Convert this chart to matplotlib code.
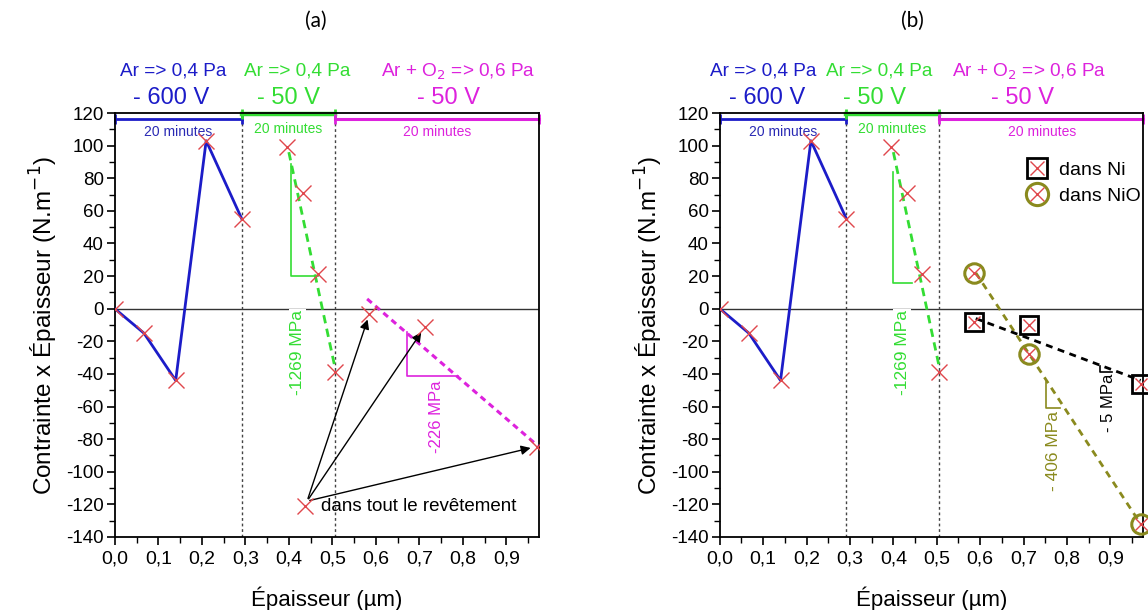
import matplotlib
matplotlib.use("Agg")
import matplotlib.pyplot as plt
from matplotlib.lines import Line2D
from matplotlib.ticker import MultipleLocator, FuncFormatter

plt.rcParams['font.family'] = ['Liberation Sans', 'DejaVu Sans']
plt.rcParams['axes.unicode_minus'] = False
NARROW = ['Liberation Sans Narrow', 'Liberation Sans', 'DejaVu Sans']

# data
ar600_x = [0.0, 0.067, 0.14, 0.21, 0.292]
ar600_y = [0.0, -15, -44, 103, 55]
ar50_x = [0.395, 0.432, 0.467, 0.505]
ar50_y = [99, 71, 21, -39]
ar50_fit_x = [0.40, 0.506]
ar50_fit_y = [96, -36]

o2_x = [0.585, 0.712, 0.97]
o2_y = [-3, -11, -85]
o2_fit_x = [0.58, 0.972]
o2_fit_y = [6, -84]
whole_pt = (0.437, -121)

ni_x = [0.585, 0.712, 0.97]
ni_y = [-8, -10, -46]
ni_fit_x = [0.59, 0.97]
ni_fit_y = [-6, -44]
nio_x = [0.585, 0.712, 0.97]
nio_y = [22, -28, -132]
nio_fit_x = [0.59, 0.97]
nio_fit_y = [22, -132]

bounds = [0.0, 0.292, 0.506, 0.975]

BLUE = '#1c1cc8'
BLUE_T = '#2a2ab4'
GREEN = '#33dd33'
MAG = '#dd22dd'
OLIVE = '#8a8a1e'
RED = '#e0474c'

fig = plt.figure(figsize=(11.48, 6.10), dpi=100)
axa = fig.add_axes([0.100, 0.1197, 0.3695, 0.695])
axb = fig.add_axes([0.627, 0.1197, 0.3685, 0.695])


def base(ax, hdr):
    ax.set_xlim(0, 0.975)
    ax.set_ylim(-140, 120)
    ax.xaxis.set_major_locator(MultipleLocator(0.1))
    ax.xaxis.set_minor_locator(MultipleLocator(0.05))
    ax.yaxis.set_major_locator(MultipleLocator(20))
    ax.yaxis.set_minor_locator(MultipleLocator(10))
    ax.xaxis.set_major_formatter(FuncFormatter(
        lambda v, p: ('%.1f' % v).replace('.', ',') if v < 0.95 else ''))
    ax.tick_params(which='both', direction='out', top=False, right=False)
    ax.tick_params(which='major', length=6, width=1.2)
    ax.tick_params(which='minor', length=4, width=1.0)
    ax.tick_params(axis='y', labelsize=13.5, pad=2)
    for lab in ax.get_xticklabels():
        lab.set_family(NARROW)
        lab.set_fontsize(14)
    for s in ax.spines.values():
        s.set_linewidth(1.3)
    ax.set_xlabel('Épaisseur (µm)', family=NARROW, fontsize=16, labelpad=14)
    ax.set_ylabel('Contrainte x Épaisseur (N.m$^{-1}$)', fontsize=17.5,
                  labelpad=4)
    ax.axhline(0, color='#333333', lw=1.0, zorder=1)
    for xv in bounds[1:3]:
        ax.axvline(xv, color='#444444', lw=1.0, ls=(0, (2, 2)), zorder=1)

    # process bars
    ax.plot(bounds[0:2], [116.5, 116.5], color=BLUE, lw=2, clip_on=False,
            marker='|', ms=7, mew=2)
    ax.plot(bounds[1:3], [119.2, 119.2], color=GREEN, lw=3.2, clip_on=False,
            marker='|', ms=7, mew=2)
    ax.plot(bounds[2:4], [116.5, 116.5], color=MAG, lw=2.2, clip_on=False,
            marker='|', ms=7, mew=2)
    ax.text(0.145, 108.5, '20 minutes', color=BLUE_T, fontsize=10,
            ha='center', va='center')
    ax.text(0.398, 110, '20 minutes', color=GREEN, fontsize=10,
            ha='center', va='center')
    ax.text(0.742, 108.5, '20 minutes', color=MAG, fontsize=10,
            ha='center', va='center')

    # headers
    for xh, col, t in zip(hdr[0], [BLUE, GREEN, MAG],
                          ['Ar => 0,4 Pa', 'Ar => 0,4 Pa',
                           'Ar + O$_2$ => 0,6 Pa']):
        ax.text(xh, 145.5, t, color=col, fontsize=13.7, ha='center',
                va='center', clip_on=False)
    for xv, col, t in zip(hdr[1], [BLUE, GREEN, MAG],
                          ['- 600 V', '- 50 V', '- 50 V']):
        ax.text(xv, 129, t, color=col, fontsize=17, ha='center',
                va='center', clip_on=False)

    # first two sequences
    ax.plot(ar600_x, ar600_y, color=BLUE, lw=2, zorder=3)
    ax.plot(ar600_x, ar600_y, ls='none', marker='x', ms=11, mew=1.0,
            color=RED, zorder=4)
    ax.plot(ar50_fit_x, ar50_fit_y, color=GREEN, lw=2, ls=(0, (3, 2)),
            zorder=3)
    ax.plot(ar50_x, ar50_y, ls='none', marker='x', ms=11, mew=1.0,
            color=RED, zorder=4)


# ---------------- (a)
base(axa, ([0.135, 0.42, 0.79], [0.13, 0.40, 0.767]))
axa.plot([0.405, 0.405, 0.467], [89, 20, 20], color=GREEN, lw=1.2, zorder=2)
axa.text(0.42, -27, '-1269 MPa', color=GREEN, fontsize=12.5, rotation=90,
         ha='center', va='center', zorder=2,
         bbox=dict(facecolor='white', edgecolor='none', pad=1))
axa.plot(o2_fit_x, o2_fit_y, color=MAG, lw=2.2, ls=(0, (2, 1.5)), zorder=3)
axa.plot(o2_x, o2_y, ls='none', marker='x', ms=11, mew=1.0, color=RED,
         zorder=4)
axa.plot([0.671, 0.671, 0.79], [-14, -41, -41], color=MAG, lw=1.2, zorder=2)
axa.text(0.74, -66, '-226 MPa', color=MAG, fontsize=12, rotation=90,
         ha='center', va='center')
axa.plot([whole_pt[0]], [whole_pt[1]], ls='none', marker='x', ms=11,
         mew=1.0, color=RED, zorder=4)
for tx, ty in zip([0.583, 0.708, 0.962], [-5, -13, -85]):
    axa.annotate('', xy=(tx, ty), xytext=(whole_pt[0] + 0.005, -118),
                 arrowprops=dict(arrowstyle='-|>', color='black', lw=1.0,
                                 mutation_scale=14))
axa.text(0.474, -121, 'dans tout le revêtement', fontsize=13.5, ha='left',
         va='center')

# ---------------- (b)
base(axb, ([0.099, 0.368, 0.713], [0.108, 0.356, 0.697]))
axb.plot([0.40, 0.40, 0.444], [84, 16, 16], color=GREEN, lw=1.2, zorder=2)
axb.text(0.42, -27, '-1269 MPa', color=GREEN, fontsize=12.5, rotation=90,
         ha='center', va='center', zorder=2,
         bbox=dict(facecolor='white', edgecolor='none', pad=1))
axb.plot(nio_fit_x, nio_fit_y, color=OLIVE, lw=2, ls=(0, (2.5, 2)), zorder=3)
axb.plot(ni_fit_x, ni_fit_y, color='black', lw=2, ls=(0, (2.5, 2)), zorder=3)
axb.plot(nio_x, nio_y, ls='none', marker='o', ms=14, mfc='none', mew=2.2,
         mec=OLIVE, zorder=4, clip_on=False)
axb.plot(ni_x, ni_y, ls='none', marker='s', ms=13, mfc='none', mew=2.0,
         mec='black', zorder=4, clip_on=False)
axb.plot(ni_x + nio_x, ni_y + nio_y, ls='none', marker='x', ms=9, mew=1.0,
         color=RED, zorder=5, clip_on=False)
axb.plot([0.752, 0.752, 0.785], [-45, -61, -61], color=OLIVE, lw=1.2)
axb.text(0.768, -87, '- 406 MPa', color=OLIVE, fontsize=12.5, rotation=90,
         ha='center', va='center')
axb.plot([0.876, 0.876, 0.905], [-35, -39, -39], color='black', lw=1.2)
axb.text(0.897, -58, '- 5 MPa', color='black', fontsize=12, rotation=90,
         ha='center', va='center')

h_ni = (Line2D([], [], ls='none', marker='s', ms=14, mfc='none', mew=2.0,
               mec='black'),
        Line2D([], [], ls='none', marker='x', ms=10, mew=1.0, color=RED))
h_nio = (Line2D([], [], ls='none', marker='o', ms=16, mfc='none', mew=2.2,
                mec=OLIVE),
         Line2D([], [], ls='none', marker='x', ms=10, mew=1.0, color=RED))
axb.legend([h_ni, h_nio], ['dans Ni', 'dans NiO'], loc='upper left',
           bbox_to_anchor=(0.705, 0.905), frameon=False, fontsize=14,
           handlelength=1.2, handletextpad=0.5, labelspacing=0.45,
           borderaxespad=0)

fig.text(0.275, 0.965, '(a)', fontsize=15, family='Lato', ha='center',
         va='center')
fig.text(0.795, 0.965, '(b)', fontsize=15, family='Lato', ha='center',
         va='center')

fig.savefig('out.png', dpi=100)
